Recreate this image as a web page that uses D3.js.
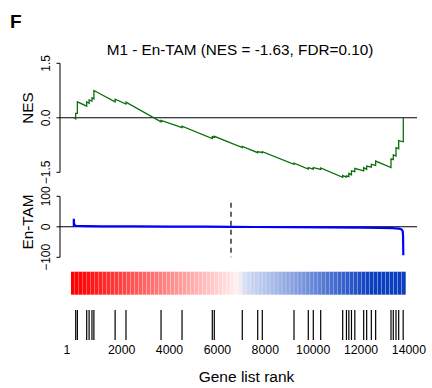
<!DOCTYPE html>
<html><head><meta charset="utf-8">
<script src="https://cdn.jsdelivr.net/npm/d3@7"></script>
<style>body{margin:0;background:#fff} text{font-family:"Liberation Sans",Arial,Helvetica,sans-serif;fill:#000}</style>
</head><body><svg id="c" width="432" height="388"></svg>
<script>
// ---------- data ----------
const N = 13765;
const title = "M1 - En-TAM (NES = -1.63, FDR=0.10)";
const panelLetter = "F";
const xTicks = [1, 2000, 4000, 6000, 8000, 10000, 12000, 14000];
const xTickLabels = ["1", "2000", "4000", "6000", "8000", "10000", "12000", "14000"];
const esTicks = [-1.5, 0, 1.5];
const esTickLabels = ["\u22121.5", "0.0", "1.5"];
const metricTicks = [-100, 0, 100];
const metricTickLabels = ["\u2212100", "0", "100"];
const zeroCross = 6567;
const hits = [80, 150, 540, 640, 760, 840, 1727, 2181, 3645, 4522, 5786, 5870, 7039, 7683, 7875,
  9199, 9796, 10005, 10314, 11233, 11390, 11490, 11600, 11740, 12110, 12235, 12430, 12610,
  13251, 13347, 13460, 13572, 13760];
const esRank = [1, 80, 80, 150, 150, 540, 540, 640, 640, 760, 760, 840, 840, 1727, 1727, 2181, 2181,
  3645, 3645, 4522, 4522, 5786, 5786, 5870, 5870, 7039, 7039, 7683, 7683, 7875, 7875, 9199, 9199,
  9796, 9796, 10005, 10005, 10314, 10314, 11233, 11233, 11390, 11390, 11490, 11490, 11600, 11600,
  11740, 11740, 12110, 12110, 12235, 12235, 12430, 12430, 12610, 12610, 13251, 13251, 13347, 13347,
  13460, 13460, 13572, 13572, 13765, 13765];
const esValue = [0, -0.03, 0.12, 0.12, 0.44, 0.32, 0.44, 0.40, 0.49, 0.46, 0.55, 0.52, 0.75, 0.44, 0.51,
  0.38, 0.43, -0.11, -0.07, -0.27, -0.23, -0.57, -0.52, -0.54, -0.51, -0.82, -0.79, -0.96, -0.93,
  -0.96, -0.93, -1.28, -1.25, -1.41, -1.37, -1.41, -1.37, -1.42, -1.38, -1.64, -1.59, -1.63, -1.60,
  -1.62, -1.53, -1.57, -1.46, -1.48, -1.39, -1.46, -1.37, -1.42, -1.33, -1.36, -1.28, -1.31, -1.19,
  -1.37, -1.13, -1.15, -1.02, -1.05, -0.82, -0.85, -0.63, -0.66, 0];
const metricRank = [1, 1, 15, 40, 90, 200, 500, 1200, 2500, 4000, 5500, 6567, 7500, 9000, 10500, 12000,
  12800, 13300, 13600, 13700, 13740, 13755, 13765];
const metricValue = [0, 26, 9, 5, 3.5, 2.6, 2, 1.6, 1.2, 0.8, 0.4, 0, -0.6, -1.2, -1.8, -2.6,
  -3.5, -4.5, -6, -9, -14, -30, -93];
const barColorPos = [0, 0.04, 0.48, 0.5, 0.52, 0.9, 1];
const barColors = ["#ff0000", "#ff0a0a", "#ffe6e6", "#fff4f4", "#d4ddf4", "#0b3fc0", "#0b3fc0"];
const barBins = 84;

// ---------- layout ----------
const svg = d3.select("#c");
const x = d3.scaleLinear().domain([1, N]).range([73.8, 403.3]);
const yES = d3.scaleLinear().domain([-1.5, 1.5]).range([172.3, 63.3]);
const yM = d3.scaleLinear().domain([-100, 100]).range([257.3, 196.3]);
const axisX = 60, plotRight = 417;
const green = "#0e6e0e";

svg.append("text").attr("x", 10).attr("y", 28).attr("font-size", 19).attr("font-weight", "bold").text(panelLetter);
svg.append("text").attr("x", 240).attr("y", 55).attr("font-size", 15.3).attr("text-anchor", "middle").text(title);

// ES panel
const gES = svg.append("g");
gES.append("line").attr("x1", axisX).attr("x2", axisX).attr("y1", yES(1.5)).attr("y2", yES(-1.5)).attr("stroke", "#000");
esTicks.forEach((t, i) => {
  gES.append("line").attr("x1", axisX - 3.5).attr("x2", axisX).attr("y1", yES(t)).attr("y2", yES(t)).attr("stroke", "#000");
  gES.append("text").attr("transform", `translate(${axisX - 10},${yES(t)}) rotate(-90)`)
    .attr("text-anchor", "middle").attr("font-size", 12).text(esTickLabels[i]);
});
gES.append("line").attr("x1", axisX).attr("x2", plotRight).attr("y1", yES(0)).attr("y2", yES(0)).attr("stroke", "#000").attr("stroke-width", 1.1);
gES.append("text").attr("transform", `translate(32.5,108) rotate(-90)`).attr("text-anchor", "middle").attr("font-size", 15.3).text("NES");
const esData = esRank.map((r, i) => [r, esValue[i]]);
gES.append("path").datum(esData).attr("fill", "none").attr("stroke", green).attr("stroke-width", 1.3)
  .attr("d", d3.line().x(d => x(d[0])).y(d => yES(d[1])));

// metric panel
const gM = svg.append("g");
gM.append("line").attr("x1", axisX).attr("x2", axisX).attr("y1", yM(100)).attr("y2", yM(-100)).attr("stroke", "#000");
metricTicks.forEach((t, i) => {
  gM.append("line").attr("x1", axisX - 3.5).attr("x2", axisX).attr("y1", yM(t)).attr("y2", yM(t)).attr("stroke", "#000");
  gM.append("text").attr("transform", `translate(${axisX - 10},${yM(t)}) rotate(-90)`)
    .attr("text-anchor", "middle").attr("font-size", 12).text(metricTickLabels[i]);
});
gM.append("line").attr("x1", axisX).attr("x2", plotRight).attr("y1", yM(0)).attr("y2", yM(0)).attr("stroke", "#000").attr("stroke-width", 1.1);
gM.append("text").attr("transform", `translate(32.5,222) rotate(-90)`).attr("text-anchor", "middle").attr("font-size", 15.3).text("En-TAM");
const mData = metricRank.map((r, i) => [r, metricValue[i]]);
gM.append("path").datum(mData).attr("fill", "none").attr("stroke", "#0000ff").attr("stroke-width", 2.2)
  .attr("d", d3.line().x(d => x(d[0])).y(d => yM(d[1])));
gM.append("line").attr("x1", x(zeroCross)).attr("x2", x(zeroCross)).attr("y1", 202.7).attr("y2", yM(-100))
  .attr("stroke", "#000").attr("stroke-width", 1.2).attr("stroke-dasharray", "5,4");

// colour bar
const barX0 = x.range()[0] - 2.8, barX1 = x.range()[1] + 2.4;
const barColor = d3.scaleLinear().domain(barColorPos).range(barColors).interpolate(d3.interpolateRgb);
const bw = (barX1 - barX0) / barBins;
svg.append("g").selectAll("rect").data(d3.range(barBins)).join("rect")
  .attr("x", i => barX0 + i * bw).attr("width", i => i === barBins - 1 ? bw : bw - 0.3).attr("y", 271.7).attr("height", 23)
  .attr("fill", i => barColor((i + 0.5) / barBins));

// hit rug
svg.append("g").selectAll("line").data(hits).join("line")
  .attr("x1", d => x(d)).attr("x2", d => x(d)).attr("y1", 310).attr("y2", 340)
  .attr("stroke", "#000").attr("stroke-width", 1.2);

// x tick labels
svg.append("g").selectAll("text").data(xTicks).join("text")
  .attr("x", (d, i) => x(d) + (i === 0 ? -7 : 0)).attr("y", 354).attr("text-anchor", "middle").attr("font-size", 12.3)
  .text((d, i) => xTickLabels[i]);
svg.append("text").attr("x", 246.5).attr("y", 381.5).attr("text-anchor", "middle").attr("font-size", 15.5).text("Gene list rank");
</script></body></html>
